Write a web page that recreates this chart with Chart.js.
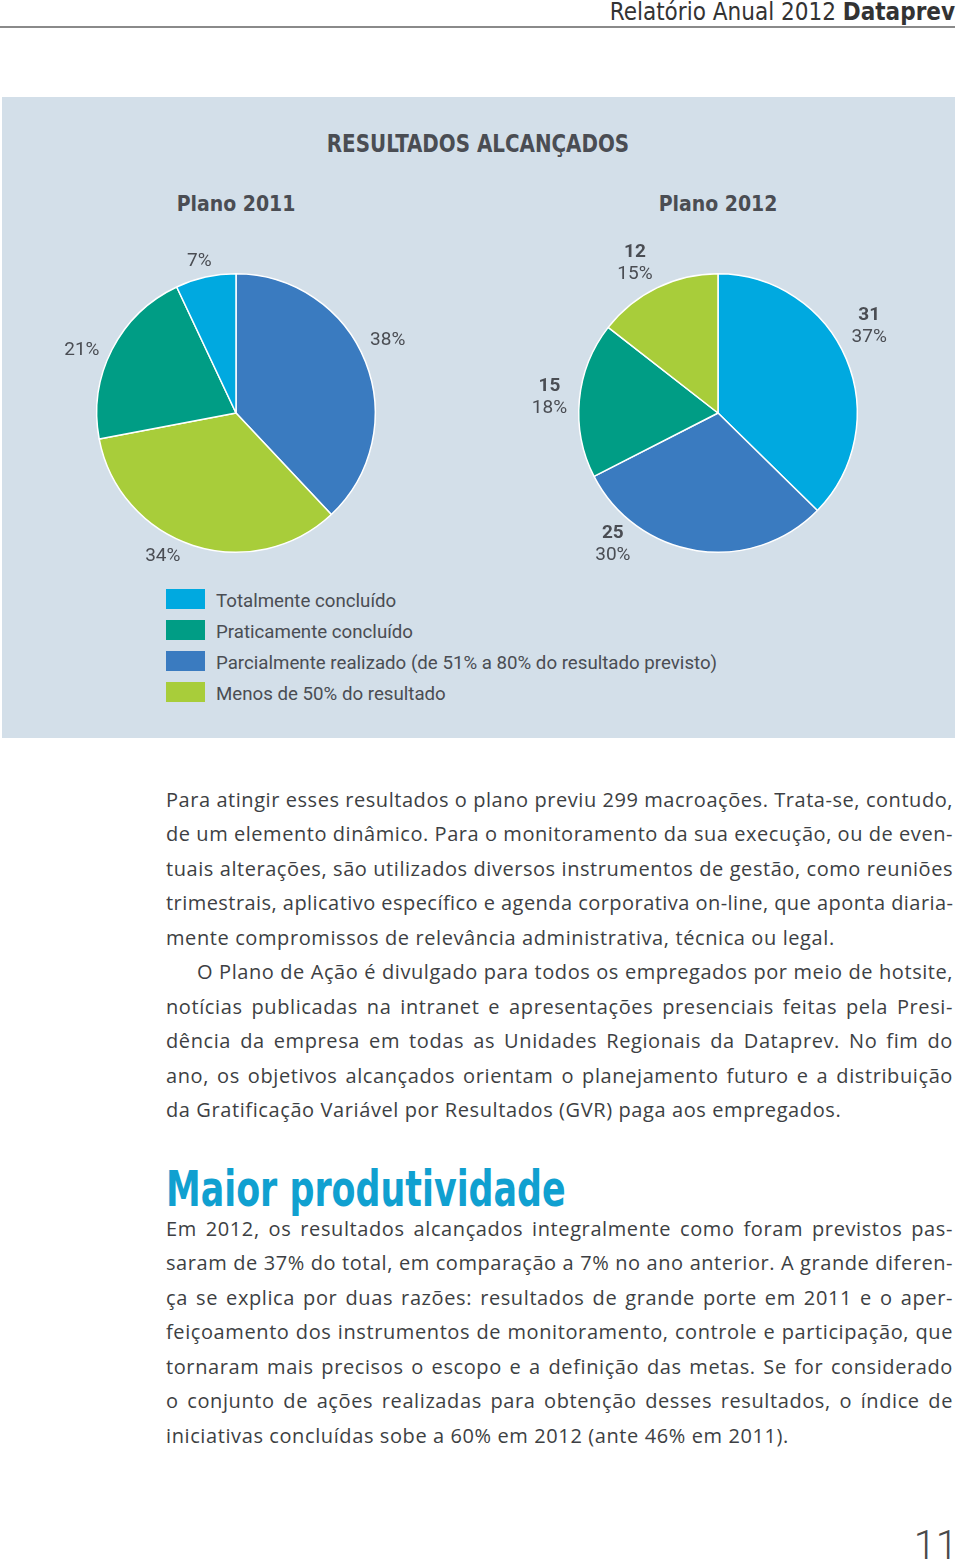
<!DOCTYPE html>
<html lang="pt-BR">
<head>
<meta charset="utf-8">
<title>Resultados alcançados</title>
<script src="https://cdn.jsdelivr.net/npm/chart.js@4.4.1/dist/chart.umd.min.js"></script>
<style>
  html, body { margin: 0; padding: 0; background: #fff; overflow: hidden; }
  body { width: 960px; height: 1563px; position: relative; font-family: Roboto, "Noto Sans", sans-serif; color: #3f4247; }
  .abs { position: absolute; white-space: nowrap; }
  .narrow { font-family: "Liberation Sans Narrow", "DejaVu Sans Condensed", sans-serif; }
  #header { right: 5px; top: 0; font-size: 24px; line-height: 24px; color: #333; }
  #header b { font-weight: bold; }
  #rule { position: absolute; left: 0; top: 26px; width: 955px; height: 2px; background: #8a8a8a; }
  #panel { position: absolute; left: 2px; top: 97px; width: 953px; height: 641px; background: #d3dfe9; }
  .ttl { font-weight: bold; color: #4a4d53; }
  canvas { position: absolute; }
  .legend-row { position: absolute; left: 166px; height: 20px; }
  .legend-row i { position: absolute; left: 0; top: 0; width: 39px; height: 20px; }
  .legend-row span { position: absolute; left: 50px; top: -6px; font-size: 18.7px; line-height: 36px; white-space: nowrap; color: #4a4d53; }
  .para { position: absolute; left: 166px; width: 787px; font-family: "Open Sans", Roboto, sans-serif; font-size: 20px; line-height: 34.45px; letter-spacing: 0.6px; color: #3d3f43; }
  .para div { text-align: justify; text-align-last: justify; white-space: nowrap; overflow: hidden; }
  .para div.last { text-align-last: left; }
  .para div.ind { text-indent: 31px; }
  #heading { left: 166px; top: 1164px; font-size: 50px; line-height: 50px; font-weight: bold; color: #10a0d0; transform: scaleX(0.775); transform-origin: left center; }
  #page { right: 2px; top: 1529px; font-size: 40px; line-height: 34px; font-weight: 300; color: #4a4a4a; }
</style>
</head>
<body>
<div id="header" class="abs narrow">Relatório Anual 2012 <b>Dataprev</b></div>
<div id="rule"></div>
<div id="panel"></div>

<div class="abs narrow ttl" style="left:0;width:956px;text-align:center;top:132px;font-size:24px;line-height:24px;transform:scaleX(0.92);">RESULTADOS ALCANÇADOS</div>
<div class="abs narrow ttl" style="left:136px;width:200px;text-align:center;top:194px;font-size:21px;line-height:21px;">Plano 2011</div>
<div class="abs narrow ttl" style="left:618px;width:200px;text-align:center;top:194px;font-size:21px;line-height:21px;">Plano 2012</div>

<canvas id="pie2011" width="440" height="340" style="left:16px;top:243px;"></canvas>
<canvas id="pie2012" width="440" height="340" style="left:498px;top:243px;"></canvas>

<div id="legend"></div>

<div class="para" style="top:783px;">
  <div>Para atingir esses resultados o plano previu 299 macroações. Trata-se, contudo,</div>
  <div>de um elemento dinâmico. Para o monitoramento da sua execução, ou de even-</div>
  <div>tuais alterações, são utilizados diversos instrumentos de gestão, como reuniões</div>
  <div>trimestrais, aplicativo específico e agenda corporativa on-line, que aponta diaria-</div>
  <div class="last">mente compromissos de relevância administrativa, técnica ou legal.</div>
  <div class="ind">O Plano de Ação é divulgado para todos os empregados por meio de hotsite,</div>
  <div>notícias publicadas na intranet e apresentações presenciais feitas pela Presi-</div>
  <div>dência da empresa em todas as Unidades Regionais da Dataprev. No fim do</div>
  <div>ano, os objetivos alcançados orientam o planejamento futuro e a distribuição</div>
  <div class="last">da Gratificação Variável por Resultados (GVR) paga aos empregados.</div>
</div>

<div id="heading" class="abs narrow">Maior produtividade</div>

<div class="para" style="top:1212px;">
  <div>Em 2012, os resultados alcançados integralmente como foram previstos pas-</div>
  <div>saram de 37% do total, em comparação a 7% no ano anterior. A grande diferen-</div>
  <div>ça se explica por duas razões: resultados de grande porte em 2011 e o aper-</div>
  <div>feiçoamento dos instrumentos de monitoramento, controle e participação, que</div>
  <div>tornaram mais precisos o escopo e a definição das metas. Se for considerado</div>
  <div>o conjunto de ações realizadas para obtenção desses resultados, o índice de</div>
  <div class="last">iniciativas concluídas sobe a 60% em 2012 (ante 46% em 2011).</div>
</div>

<div id="page" class="abs">11</div>

<script>
// categories and their colours (legend order)
const categories = [
  'Totalmente concluído',
  'Praticamente concluído',
  'Parcialmente realizado (de 51% a 80% do resultado previsto)',
  'Menos de 50% do resultado'
];
const colors = ['#00a9e0', '#009d85', '#3a7bc0', '#a8cd3a'];

// Plano 2011 - only percentages printed (by category)
const pct2011 = [7, 21, 38, 34];
const order2011 = [2, 3, 1, 0]; // slice order, clockwise from the top

// Plano 2012 - number of results and percentage (by category)
const count2012 = [31, 15, 25, 12];
const pct2012 = [37, 18, 30, 15];
const order2012 = [0, 2, 1, 3];

// tighten body lines that do not fit the column
document.querySelectorAll('.para div').forEach(line => {
  let ls = 0.6;
  while (line.scrollWidth > line.clientWidth && ls > -0.5) {
    ls -= 0.05;
    line.style.letterSpacing = ls + 'px';
  }
});

// legend
const legend = document.getElementById('legend');
categories.forEach((c, i) => {
  const row = document.createElement('div');
  row.className = 'legend-row';
  row.style.top = (589 + i * 31) + 'px';
  row.innerHTML = '<i style="background:' + colors[i] + '"></i><span>' + c + '</span>';
  legend.appendChild(row);
});

// labels around the slices
const sliceLabels = {
  id: 'sliceLabels',
  afterDatasetsDraw(chart, args, opts) {
    const ctx = chart.ctx;
    const meta = chart.getDatasetMeta(0);
    ctx.save();
    ctx.fillStyle = '#4a4d53';
    ctx.textAlign = 'center';
    ctx.textBaseline = 'middle';
    meta.data.forEach((arc, i) => {
      const p = arc.getProps(['x', 'y', 'startAngle', 'endAngle', 'outerRadius'], true);
      const a = (p.startAngle + p.endAngle) / 2 + opts.nudge[i] * Math.PI / 180;
      const r = p.outerRadius + opts.gap[i];
      const x = p.x + Math.cos(a) * r;
      const y = p.y + Math.sin(a) * r;
      if (opts.counts) {
        ctx.font = 'bold 19px Roboto, sans-serif';
        ctx.fillText(opts.counts[i], x, y - 11);
        ctx.font = '19px Roboto, sans-serif';
        ctx.fillText(opts.pct[i] + '%', x, y + 11);
      } else {
        ctx.font = '19px Roboto, sans-serif';
        ctx.fillText(opts.pct[i] + '%', x, y);
      }
    });
    ctx.restore();
  }
};

function makePie(id, order, values, labelOpts) {
  return new Chart(document.getElementById(id), {
    type: 'pie',
    data: {
      labels: order.map(i => categories[i]),
      datasets: [{
        data: order.map(i => values[i]),
        backgroundColor: order.map(i => colors[i]),
        borderColor: '#ffffff',
        borderWidth: 1.5
      }]
    },
    options: {
      responsive: false,
      animation: false,
      events: [],
      layout: { padding: { left: 80, right: 80, top: 30, bottom: 30 } },
      plugins: {
        legend: { display: false },
        tooltip: { enabled: false },
        sliceLabels: labelOpts
      }
    },
    plugins: [sliceLabels]
  });
}

makePie('pie2011', order2011, pct2011, {
  pct: order2011.map(i => pct2011[i]),
  counts: null,
  nudge: [-4, 9, -5, -1],
  gap: [29, 22, 27, 17]
});

makePie('pie2012', order2012, count2012, {
  pct: order2012.map(i => pct2012[i]),
  counts: order2012.map(i => count2012[i]),
  nudge: [-7, 30, 0, -3],
  gap: [35, 29, 30, 32]
});
</script>
</body>
</html>
